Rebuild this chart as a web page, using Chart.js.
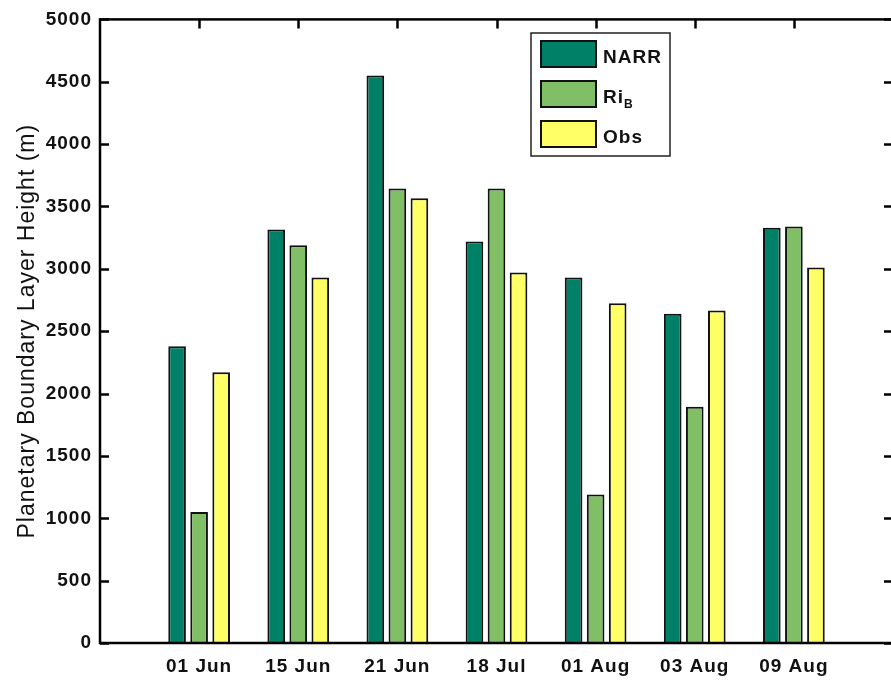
<!DOCTYPE html>
<html>
<head>
<meta charset="utf-8">
<script src="https://cdn.jsdelivr.net/npm/chart.js@4.4.1/dist/chart.umd.min.js"></script>
<style>
  html, body { margin: 0; padding: 0; background: #fff; overflow: hidden; }
</style>
</head>
<body>
<canvas id="pblChart" width="905" height="685"></canvas>
<script>
// --- Data: PBL height (m) per case date ---
const dates = ['01 Jun', '15 Jun', '21 Jun', '18 Jul', '01 Aug', '03 Aug', '09 Aug'];
const narr = [2380, 3315, 4550, 3220, 2930, 2640, 3330];
const riB  = [1050, 3190, 3645, 3645, 1190, 1895, 3340];
const obs  = [2170, 2930, 3565, 2970, 2725, 2665, 3010];
const yMax = 5000;
const yStep = 500;

// summer colormap, 3 entries
const colors = ['#008066', '#80bf66', '#ffff66'];
const FONT = '"Liberation Sans", Arial, sans-serif';

// empty slot at each end so the axis runs 0..8 like the original plot
const pad = arr => [null, ...arr, null];
const labels = ['', ...dates, ''];

// box + inward ticks on all four sides
const axesFrame = {
  id: 'axesFrame',
  beforeDraw(chart) {
    chart.ctx.letterSpacing = '1px';
  },
  beforeDatasetsDraw(chart) {
    const { ctx, chartArea: a, scales: { x, y } } = chart;
    const len = 9;
    ctx.save();
    ctx.strokeStyle = '#000';
    ctx.lineWidth = 2.5;
    ctx.beginPath();
    y.ticks.forEach(t => {
      const py = Math.round(y.getPixelForValue(t.value)) + 0.5;
      ctx.moveTo(a.left, py); ctx.lineTo(a.left + len, py);
      ctx.moveTo(a.right, py); ctx.lineTo(a.right - len, py);
    });
    dates.forEach((d, i) => {
      const px = Math.round(x.getPixelForValue(i + 1)) + 0.5;
      ctx.moveTo(px, a.top); ctx.lineTo(px, a.top + len);
      ctx.moveTo(px, a.bottom); ctx.lineTo(px, a.bottom - len);
    });
    ctx.stroke();
    ctx.restore();
  },
  afterDatasetsDraw(chart) {
    const { ctx, chartArea: a } = chart;
    ctx.save();
    ctx.strokeStyle = '#000';
    ctx.lineWidth = 2.5;
    ctx.strokeRect(a.left, a.top, a.right - a.left, a.bottom - a.top);
    ctx.restore();
  }
};

// legend box in the upper middle of the plot
const boxLegend = {
  id: 'boxLegend',
  afterDraw(chart) {
    const ctx = chart.ctx;
    const bx = 531, by = 33, bw = 139, bh = 123;
    ctx.save();
    ctx.fillStyle = '#fff';
    ctx.fillRect(bx, by, bw, bh);
    ctx.strokeStyle = '#222';
    ctx.lineWidth = 1.5;
    ctx.strokeRect(bx, by, bw, bh);
    chart.data.datasets.forEach((ds, i) => {
      const sy = by + 8 + i * 40;
      ctx.fillStyle = ds.backgroundColor;
      ctx.fillRect(541, sy, 55, 26);
      ctx.strokeStyle = '#111';
      ctx.lineWidth = 2;
      ctx.strokeRect(541, sy, 55, 26);
      ctx.fillStyle = '#111';
      ctx.font = 'bold 19px ' + FONT;
      ctx.textAlign = 'left';
      ctx.textBaseline = 'middle';
      ctx.fillText(ds.label, 603, sy + 17);
      if (ds.sub) {
        const w = ctx.measureText(ds.label).width;
        ctx.font = 'bold 12px ' + FONT;
        ctx.fillText(ds.sub, 603 + w, sy + 24);
      }
    });
    ctx.restore();
  }
};

new Chart(document.getElementById('pblChart'), {
  type: 'bar',
  data: {
    labels: labels,
    datasets: [
      { label: 'NARR', data: pad(narr), backgroundColor: colors[0] },
      { label: 'Ri', sub: 'B', data: pad(riB), backgroundColor: colors[1] },
      { label: 'Obs', data: pad(obs), backgroundColor: colors[2] }
    ].map(ds => ({ ...ds, borderColor: '#111', borderWidth: 2, categoryPercentage: 0.667, barPercentage: 0.8 }))
  },
  options: {
    responsive: false,
    animation: false,
    devicePixelRatio: 1,
    layout: { padding: { top: 15, right: 7, left: 0, bottom: 0 } },
    plugins: { legend: { display: false }, tooltip: { enabled: false } },
    scales: {
      x: {
        type: 'category',
        offset: false,
        grid: { display: false, drawTicks: false },
        border: { display: false },
        ticks: {
          autoSkip: false,
          maxRotation: 0,
          padding: 12,
          color: '#111',
          font: { family: FONT, size: 19, weight: 'bold' }
        },
        afterFit: s => { s.height = 42; }
      },
      y: {
        min: 0,
        max: yMax,
        grid: { display: false, drawTicks: false },
        border: { display: false },
        ticks: {
          stepSize: yStep,
          padding: 8,
          color: '#111',
          font: { family: FONT, size: 19, weight: 'bold' },
          callback: v => String(v)
        },
        title: {
          display: true,
          text: 'Planetary Boundary Layer Height (m)',
          color: '#111',
          font: { family: FONT, size: 23, weight: 'normal' },
          padding: { top: 14, bottom: 0 }
        },
        afterFit: s => { s.width = 100; }
      }
    }
  },
  plugins: [axesFrame, boxLegend]
});
</script>
</body>
</html>
